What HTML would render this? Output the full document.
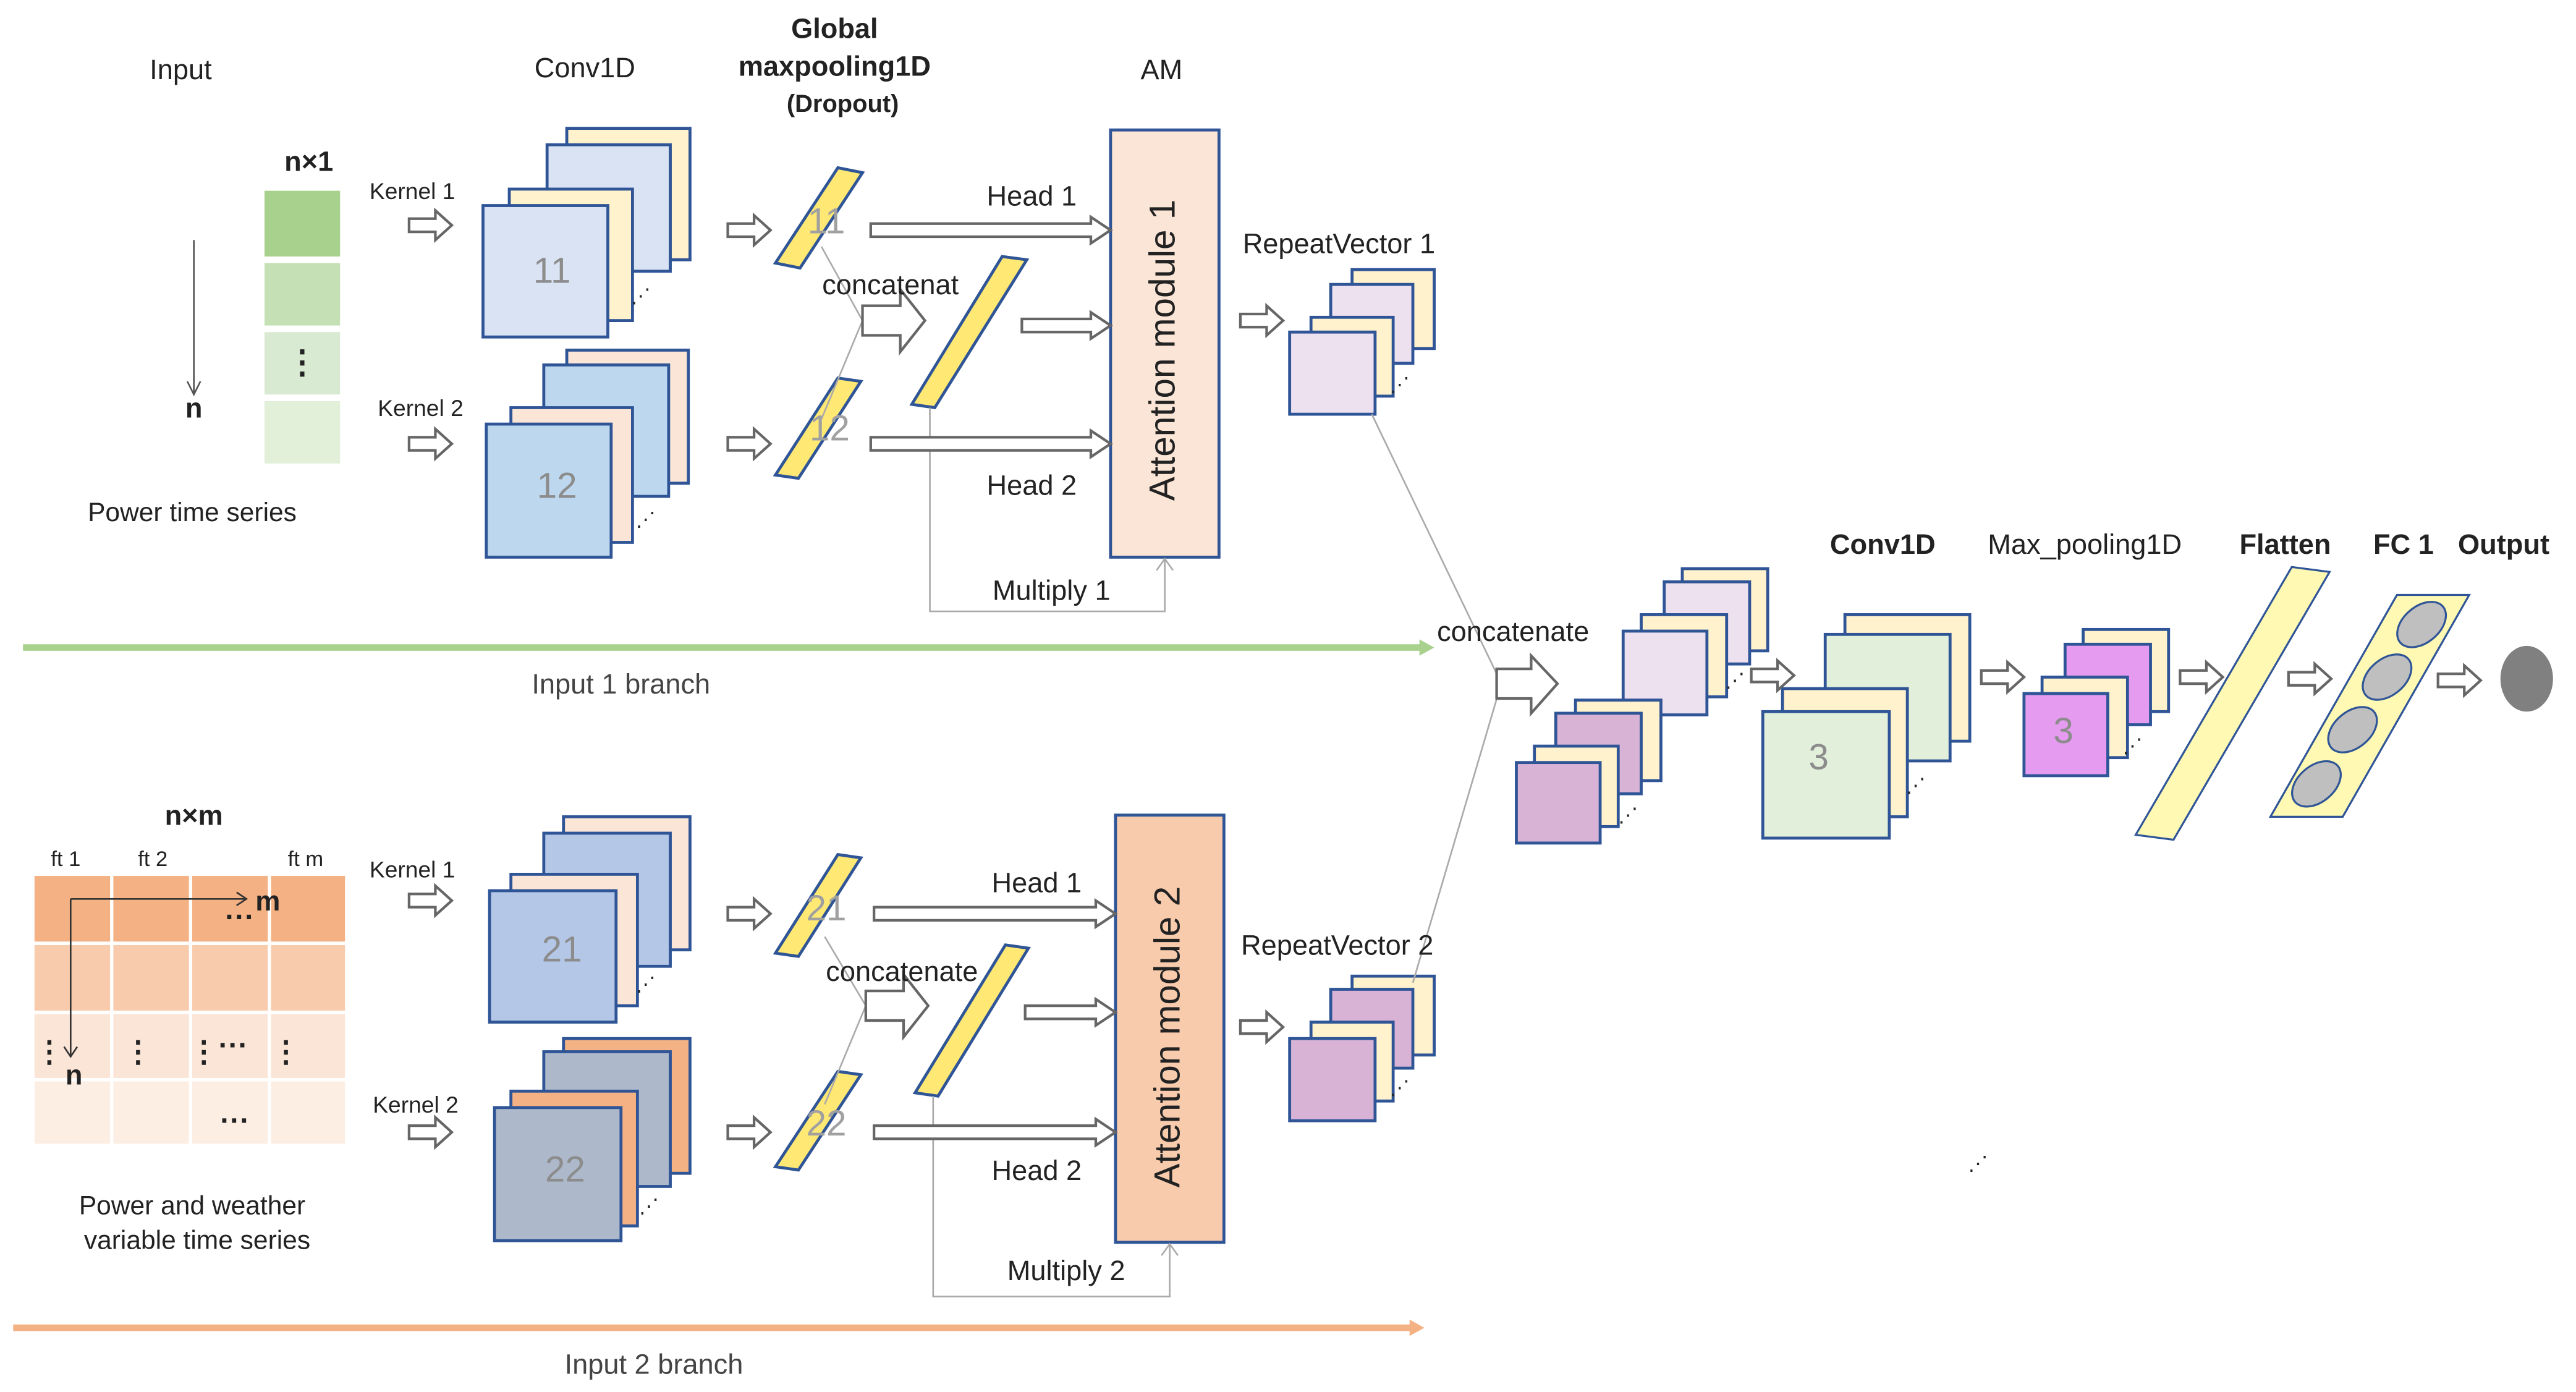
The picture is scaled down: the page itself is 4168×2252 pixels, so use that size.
<!DOCTYPE html>
<html><head><meta charset="utf-8"><style>
html,body{margin:0;padding:0;background:#fff;}
svg{display:block;}
text{font-family:"Liberation Sans",sans-serif;}
text:not([fill]){fill:#222;}
</style></head><body>
<svg width="4168" height="2252" viewBox="0 0 1568 847" xmlns="http://www.w3.org/2000/svg">
<defs>
<path id="sa" d="M0,-4 H16 V-9 L26,0 L16,9 V4 H0Z" fill="#fff" stroke="#666" stroke-width="1.6"/>
</defs>
<g stroke="#2f5597" stroke-width="1.8">
<rect x="345" y="78" width="75" height="80" fill="#fff2cc"/>
<rect x="333" y="88" width="75" height="77" fill="#dae3f3"/>
<rect x="310" y="115" width="75" height="80" fill="#fff2cc"/>
<rect x="294" y="125" width="76" height="80" fill="#dae3f3"/>
<rect x="345" y="213" width="74" height="81" fill="#fbe5d6"/>
<rect x="331" y="222" width="76" height="80" fill="#bdd7ee"/>
<rect x="311" y="248" width="74" height="82" fill="#fbe5d6"/>
<rect x="296" y="258" width="76" height="81" fill="#bdd7ee"/>
<rect x="343" y="497" width="77" height="81" fill="#fbe5d6"/>
<rect x="331" y="507" width="77" height="81" fill="#b4c7e7"/>
<rect x="311" y="532" width="77" height="80" fill="#fbe5d6"/>
<rect x="298" y="542" width="77" height="80" fill="#b4c7e7"/>
<rect x="343" y="632" width="77" height="82" fill="#f4b183"/>
<rect x="331" y="640" width="77" height="82" fill="#adb9ca"/>
<rect x="311" y="664" width="77" height="82" fill="#f4b183"/>
<rect x="301" y="674" width="77" height="81" fill="#adb9ca"/>
<polygon points="510,102 525,105 487,163 472,160" fill="#ffe873"/>
<polygon points="510,230 524,232 486,291 472,289" fill="#ffe873"/>
<polygon points="610,156 625,158 569,248 555,246" fill="#ffe873"/>
<polygon points="510,520 524,522 486,582 472,580" fill="#ffe873"/>
<polygon points="510,652 524,654 486,712 472,710" fill="#ffe873"/>
<polygon points="612,575 626,577 571,667 557,665" fill="#ffe873"/>
<rect x="676" y="79" width="66" height="260" fill="#fbe5d6"/>
<rect x="679" y="496" width="66" height="260" fill="#f8cbad"/>
<rect x="823" y="164" width="50" height="48" fill="#fff2cc"/>
<rect x="810" y="173" width="50" height="48" fill="#ede0ef"/>
<rect x="798" y="193" width="50" height="48" fill="#fff2cc"/>
<rect x="785" y="202" width="52" height="50" fill="#ede0ef"/>
<rect x="823" y="594" width="50" height="48" fill="#fff2cc"/>
<rect x="810" y="602" width="50" height="48" fill="#d9b3d6"/>
<rect x="798" y="622" width="50" height="48" fill="#fff2cc"/>
<rect x="785" y="632" width="52" height="50" fill="#d9b3d6"/>
<rect x="1024" y="346" width="52" height="50" fill="#fff2cc"/>
<rect x="1013" y="354" width="52" height="50" fill="#ede0ef"/>
<rect x="999" y="374" width="52" height="50" fill="#fff2cc"/>
<rect x="988" y="384" width="51" height="51" fill="#ede0ef"/>
<rect x="959" y="426" width="52" height="49" fill="#fff2cc"/>
<rect x="947" y="434" width="52" height="49" fill="#d9b3d6"/>
<rect x="934" y="454" width="51" height="49" fill="#fff2cc"/>
<rect x="923" y="464" width="51" height="49" fill="#d9b3d6"/>
<rect x="1123" y="374" width="76" height="77" fill="#fff2cc"/>
<rect x="1111" y="386" width="76" height="77" fill="#e2efda"/>
<rect x="1085" y="419" width="76" height="78" fill="#fff2cc"/>
<rect x="1073" y="433" width="77" height="77" fill="#e2efda"/>
<rect x="1268" y="383" width="52" height="50" fill="#fff2cc"/>
<rect x="1257" y="392" width="52" height="49" fill="#e59bef"/>
<rect x="1243" y="412" width="52" height="49" fill="#fff2cc"/>
<rect x="1232" y="422" width="51" height="50" fill="#e59bef"/>
<polygon points="1395,345 1418,348 1323,511 1300,508" fill="#fff9b3" stroke-width="1.2"/>
<polygon points="1459,362 1503,362 1426,497 1382,497" fill="#fff9b3" stroke-width="1.2"/>
<g fill="#bfbfbf" stroke-width="1.2">
<ellipse cx="1474" cy="380" rx="17" ry="11" transform="rotate(-40 1474 380)"/>
<ellipse cx="1453" cy="412" rx="17" ry="11" transform="rotate(-40 1453 412)"/>
<ellipse cx="1432" cy="444" rx="17" ry="11" transform="rotate(-40 1432 444)"/>
<ellipse cx="1410" cy="477" rx="17" ry="11" transform="rotate(-40 1410 477)"/>
</g>
</g>
<ellipse cx="1538" cy="413" rx="16" ry="20" fill="#808080"/>
<g font-size="22" text-anchor="middle">
<text x="336" y="172" fill="#8c8c8c">11</text>
<text x="339" y="303" fill="#8c8c8c">12</text>
<text x="342" y="585" fill="#8c8c8c">21</text>
<text x="344" y="719" fill="#8c8c8c">22</text>
<text x="503" y="142" fill="#a0a0a0">11</text>
<text x="505" y="268" fill="#a0a0a0">12</text>
<text x="503" y="560" fill="#a0a0a0">21</text>
<text x="503" y="691" fill="#a0a0a0">22</text>
<text x="1107" y="468" fill="#8c8c8c">3</text>
<text x="1256" y="452" fill="#8c8c8c">3</text>
</g>
<g stroke="#aaa" stroke-width="1" fill="none">
<polyline points="500,150 525,195 500,255"/>
<polyline points="502,570 527,612 502,672"/>
<polyline points="566,248 566,372 709,372 709,340"/>
<polyline points="568,667 568,789 712,789 712,757"/>
<polyline points="704,347 709,340 714,347"/>
<polyline points="707,764 712,757 717,764"/>
<polyline points="835,252 912,412"/>
<polyline points="912,422 860,598"/>
</g>
<g fill="#fff" stroke="#666" stroke-width="1.6">
<path d="M530,136 H664 V132 L676,140 L664,148 V144 H530Z"/>
<path d="M622,194 H664 V190 L676,198 L664,206 V202 H622Z"/>
<path d="M530,266 H664 V262 L676,270 L664,278 V274 H530Z"/>
<path d="M532,552 H667 V548 L679,556 L667,564 V560 H532Z"/>
<path d="M624,612 H667 V608 L679,616 L667,624 V620 H624Z"/>
<path d="M532,685 H667 V681 L679,689 L667,697 V693 H532Z"/>
<path d="M525,186 H548 V176 L563,195 L548,214 V204 H525Z"/>
<path d="M527,603 H550 V593 L565,612 L550,631 V621 H527Z"/>
<path d="M911,407 H932 V399 L948,416 L932,434 V425 H911Z"/>
</g>
<use href="#sa" x="249" y="137"/><use href="#sa" x="249" y="270"/>
<use href="#sa" x="443" y="140"/><use href="#sa" x="443" y="270"/>
<use href="#sa" x="249" y="548"/><use href="#sa" x="249" y="689"/>
<use href="#sa" x="443" y="556"/><use href="#sa" x="443" y="689"/>
<use href="#sa" x="755" y="195"/><use href="#sa" x="755" y="625"/>
<use href="#sa" x="1066" y="411"/><use href="#sa" x="1206" y="412"/>
<use href="#sa" x="1327" y="412"/><use href="#sa" x="1393" y="413"/>
<use href="#sa" x="1484" y="414"/>
<rect x="161" y="116" width="46" height="40" fill="#a9d18e"/>
<rect x="161" y="160" width="46" height="38" fill="#c5e0b4"/>
<rect x="161" y="202" width="46" height="38" fill="#d9ead3"/>
<rect x="161" y="244" width="46" height="38" fill="#e2f0d9"/>
<text x="184" y="227" font-size="20" font-weight="bold" text-anchor="middle">⋮</text>
<line x1="118" y1="146" x2="118" y2="240" stroke="#555" stroke-width="1"/>
<polyline points="114,232 118,240 122,232" fill="none" stroke="#555"/>
<rect x="21" y="533" width="189" height="40" fill="#f4b183"/>
<rect x="21" y="575" width="189" height="40" fill="#f8cbad"/>
<rect x="21" y="617" width="189" height="39" fill="#fbe5d6"/>
<rect x="21" y="658" width="189" height="38" fill="#fdeee4"/>
<g stroke="#fff" stroke-width="2"><line x1="68" y1="533" x2="68" y2="696"/><line x1="116" y1="533" x2="116" y2="696"/><line x1="164" y1="533" x2="164" y2="696"/><line x1="21" y1="574" x2="210" y2="574"/><line x1="21" y1="616" x2="210" y2="616"/><line x1="21" y1="657" x2="210" y2="657"/></g>
<g stroke="#333" stroke-width="1" fill="none"><polyline points="43,547 150,547"/><polyline points="144,543 150,547 144,551"/><polyline points="43,547 43,643"/><polyline points="39,637 43,643 47,637"/></g>
<g font-weight="bold" font-size="18" text-anchor="middle">
<text x="146" y="564">···</text><text x="30" y="646">⋮</text><text x="84" y="646">⋮</text><text x="124" y="646">⋮</text><text x="142" y="642">···</text><text x="174" y="646">⋮</text><text x="143" y="688">···</text>
</g>
<line x1="14" y1="394" x2="868" y2="394" stroke="#a9d18e" stroke-width="4"/>
<polygon points="864,389 873,394 864,399" fill="#a9d18e"/>
<line x1="8" y1="808" x2="862" y2="808" stroke="#f4b183" stroke-width="4"/>
<polygon points="858,803 867,808 858,813" fill="#f4b183"/>
<g font-size="12">
<text x="384" y="184">⋰</text><text x="387" y="320">⋰</text><text x="387" y="603">⋰</text><text x="389" y="738">⋰</text>
<text x="846" y="238">⋰</text><text x="846" y="666">⋰</text><text x="1050" y="418">⋰</text><text x="985" y="500">⋰</text>
<text x="1160" y="482">⋰</text><text x="1292" y="458">⋰</text><text x="1198" y="712">⋰</text>
</g>
<g font-size="17" text-anchor="middle">
<text x="110" y="48">Input</text>
<text x="356" y="47">Conv1D</text>
<text x="508" y="23" font-weight="bold">Global</text>
<text x="508" y="46" font-weight="bold">maxpooling1D</text>
<text x="513" y="68" font-weight="bold" font-size="15">(Dropout)</text>
<text x="707" y="48">AM</text>
<text x="188" y="104" font-weight="bold">n×1</text>
<text x="118" y="254" font-weight="bold">n</text>
<text x="117" y="317" font-size="16">Power time series</text>
<text x="251" y="121" font-size="14">Kernel  1</text>
<text x="256" y="253" font-size="14">Kernel 2</text>
<text x="542" y="179">concatenat</text>
<text x="628" y="125">Head 1</text>
<text x="628" y="301">Head 2</text>
<text x="640" y="365">Multiply 1</text>
<text x="815" y="154">RepeatVector 1</text>
<text x="378" y="422" fill="#444">Input 1 branch</text>
<text x="118" y="502" font-weight="bold">n×m</text>
<text x="40" y="527" font-size="13">ft 1</text>
<text x="93" y="527" font-size="13">ft 2</text>
<text x="186" y="527" font-size="13">ft m</text>
<text x="163" y="554" font-weight="bold">m</text>
<text x="45" y="660" font-weight="bold">n</text>
<text x="117" y="739" font-size="16">Power and weather</text>
<text x="120" y="760" font-size="16">variable time series</text>
<text x="251" y="534" font-size="14">Kernel 1</text>
<text x="253" y="677" font-size="14">Kernel 2</text>
<text x="549" y="597">concatenate</text>
<text x="631" y="543">Head 1</text>
<text x="631" y="718">Head 2</text>
<text x="649" y="779">Multiply 2</text>
<text x="814" y="581">RepeatVector 2</text>
<text x="398" y="836" fill="#444">Input 2 branch</text>
<text x="921" y="390">concatenate</text>
<text x="1146" y="337" font-weight="bold">Conv1D</text>
<text x="1269" y="337">Max_pooling1D</text>
<text x="1391" y="337" font-weight="bold">Flatten</text>
<text x="1463" y="337" font-weight="bold">FC 1</text>
<text x="1524" y="337" font-weight="bold">Output</text>
</g>
<text x="0" y="0" font-size="22" text-anchor="middle" transform="translate(715,213) rotate(-90)">Attention module 1</text>
<text x="0" y="0" font-size="22" text-anchor="middle" transform="translate(718,631) rotate(-90)">Attention module 2</text>
</svg>
</body></html>
